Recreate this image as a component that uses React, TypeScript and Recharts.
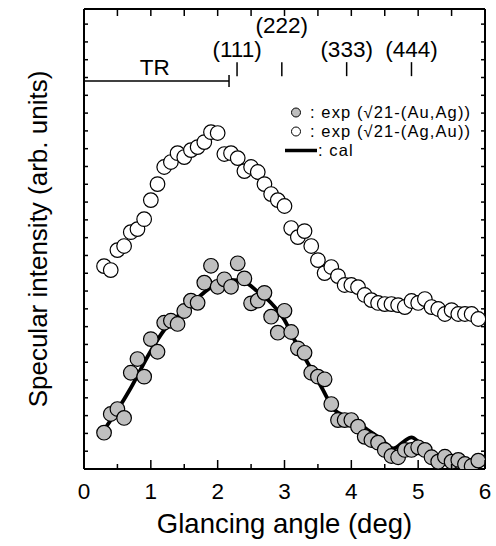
import React from 'react';
import {
  ComposedChart,
  Scatter,
  Line,
  XAxis,
  YAxis,
  ReferenceDot,
  ReferenceLine,
} from 'recharts';

const FONT = '"Liberation Sans", Arial, Helvetica, sans-serif';

// Glancing angles (deg) of the measured points
const angles = [
  0.3, 0.4, 0.5, 0.6, 0.7, 0.8, 0.9, 1.0, 1.1, 1.2, 1.3, 1.4, 1.5, 1.6, 1.7, 1.8, 1.9,
  2.0, 2.1, 2.2, 2.3, 2.4, 2.5, 2.6, 2.7, 2.8, 2.9, 3.0, 3.1, 3.2, 3.3, 3.4, 3.5, 3.6,
  3.7, 3.8, 3.9, 4.0, 4.1, 4.2, 4.3, 4.4, 4.5, 4.6, 4.7, 4.8, 4.9, 5.0, 5.1, 5.2, 5.3,
  5.4, 5.5, 5.6, 5.7, 5.8, 5.9,
];

// exp (√21-(Ag,Au)) — open circles (arb. units)
const expAgAu = [
  11.4, 11.18, 12.3, 12.53, 13.31, 13.48, 14.04, 15.11, 16.01, 16.97, 17.25, 17.75, 17.53,
  17.92, 18.09, 18.37, 18.93, 18.88, 17.7, 17.75, 17.47, 16.74, 16.97, 16.69, 16.01,
  15.45, 15.11, 14.78, 13.54, 13.03, 13.37, 12.53, 11.74, 11.01, 11.35, 10.84, 10.34,
  10.34, 10.22, 9.78, 9.49, 9.33, 9.27, 9.27, 9.21, 9.1, 9.44, 9.33, 9.55, 9.1, 8.99,
  8.71, 8.93, 8.71, 8.71, 8.71, 8.43,
];

// exp (√21-(Au,Ag)) — grey filled circles (arb. units)
const expAuAg = [
  2.04, 3.09, 3.37, 2.87, 5.41, 6.18, 5.19, 7.3, 6.59, 8.22, 8.33, 8.15, 8.88, 9.46, 9.34,
  10.47, 11.42, 10.24, 10.66, 10.24, 11.56, 10.71, 9.31, 9.46, 9.9, 8.56, 7.66, 8.89,
  7.7, 6.78, 6.53, 5.41, 5.19, 5.04, 3.65, 2.75, 2.75, 2.75, 2.38, 1.81, 1.63, 1.48,
  1.07, 0.73, 0.66, 1.07, 1.07, 1.22, 1.07, 0.66, 0.41, 0.69, 0.41, 0.51, 0.28, 0.17,
  0.47,
];

// calculated curve
const calAngles = [
  0.3, 0.5, 0.7, 0.95, 1.2, 1.45, 1.7, 1.95, 2.2, 2.4, 2.6, 2.8, 3.0, 3.15, 3.35, 3.55,
  3.75, 3.88, 4.0, 4.18, 4.43, 4.63, 4.78, 4.9, 5.03, 5.23, 5.43, 5.63, 5.83, 5.92,
];
const calValues = [
  2.19, 3.31, 4.55, 6.31, 7.81, 8.76, 9.61, 10.34, 10.62, 10.52, 9.96, 9.33, 8.37, 7.25,
  5.94, 4.62, 3.31, 3.03, 2.94, 2.38, 1.72, 1.16, 1.53, 1.78, 1.44, 0.79, 0.41, 0.28,
  0.41, 0.54,
];

const xTicks = [0, 0.5, 1, 1.5, 2, 2.5, 3, 3.5, 4, 4.5, 5, 5.5, 6];
const xTickLabels = ['0', '', '1', '', '2', '', '3', '', '4', '', '5', '', '6'];
const yTicks = [
  1, 2, 3, 4, 5, 6, 7, 8, 9, 10, 11, 12, 13, 14, 15, 16, 17, 18, 19, 20, 21, 22, 23, 24, 25,
];

// top annotations
const reflectionLabels = ['(111)', '(222)', '(333)', '(444)'];
const reflectionAngles = [2.29, 2.96, 3.93, 4.9];
const reflectionLabelLevels = [23.6, 24.9, 23.6, 23.6];
const reflectionTickLevel = 22.47;
const trLabel = 'TR';
const trLabelAngle = 1.06;
const trLabelLevel = 22.55;
const trLevel = 21.8;
const trEndAngle = 2.17;

const legendLabels = [': exp (\u221A21-(Au,Ag))', ': exp (\u221A21-(Ag,Au))', ': cal'];

const openData = angles.map((x, i) => ({ x, y: expAgAu[i] }));
const greyData = angles.map((x, i) => ({ x, y: expAuAg[i] }));
const calData = calAngles.map((x, i) => ({ x, y: calValues[i] }));

const BottomTick = (props: any) => {
  const { x, y, index } = props;
  const lbl = xTickLabels[index];
  const major = lbl !== '';
  return (
    <g>
      <line x1={x} x2={x} y1={y} y2={y - (major ? 9 : 5)} stroke="#000" strokeWidth={1.5} />
      {major && (
        <text
          x={x}
          y={y + 22}
          textAnchor="middle"
          dominantBaseline="central"
          fontSize={22.5}
          fontFamily={FONT}
          fill="#000"
        >
          {lbl}
        </text>
      )}
    </g>
  );
};

const TopTick = (props: any) => {
  const { x, y } = props;
  return <line x1={x} x2={x} y1={y} y2={y + 7} stroke="#000" strokeWidth={1.5} />;
};

const LeftTick = (props: any) => {
  const { x, y } = props;
  return <line x1={x} x2={x + 4} y1={y} y2={y} stroke="#000" strokeWidth={1.5} />;
};

const RightTick = (props: any) => {
  const { x, y } = props;
  return <line x1={x} x2={x - 4} y1={y} y2={y} stroke="#000" strokeWidth={1.5} />;
};

const openShape = (p: any) => (
  <circle cx={p.cx} cy={p.cy} r={7.3} fill="#ffffff" stroke="#000" strokeWidth={1.2} />
);
const greyShape = (p: any) => (
  <circle cx={p.cx} cy={p.cy} r={7.3} fill="#bfbfbf" stroke="#000" strokeWidth={1.2} />
);

const textShape = (label: string, size: number) => (p: any) => (
  <text
    x={p.cx}
    y={p.cy}
    textAnchor="middle"
    dominantBaseline="central"
    fontSize={size}
    fontFamily={FONT}
    fill="#000"
  >
    {label}
  </text>
);

const vTickShape = (half: number) => (p: any) => (
  <line x1={p.cx} x2={p.cx} y1={p.cy - half} y2={p.cy + half} stroke="#000" strokeWidth={1.5} />
);

const Legend = () => (
  <div
    style={{
      position: 'absolute',
      left: 283,
      top: 103,
      fontFamily: FONT,
      fontSize: 16.5,
      lineHeight: '19px',
      letterSpacing: '1.1px',
      color: '#000',
      whiteSpace: 'nowrap',
    }}
  >
    {legendLabels.map((l, i) => (
      <div key={i} style={{ display: 'flex', alignItems: 'center', height: 19 }}>
        <svg width={26} height={19} style={{ display: 'block', overflow: 'visible' }}>
          {i === 0 && <circle cx={13} cy={9.5} r={4.5} fill="#bfbfbf" stroke="#000" strokeWidth={1} />}
          {i === 1 && <circle cx={13} cy={9.5} r={4.5} fill="#fff" stroke="#000" strokeWidth={1} />}
          {i === 2 && <line x1={2} x2={34} y1={9.5} y2={9.5} stroke="#000" strokeWidth={3.5} />}
        </svg>
        <span style={{ marginLeft: i === 2 ? 9 : 1 }}>{l}</span>
      </div>
    ))}
  </div>
);

export default function App() {
  return (
    <div style={{ position: 'absolute', left: 0, top: 0, width: 496, height: 546, background: '#fff' }}>
      <ComposedChart width={496} height={546} margin={{ top: 0, right: 0, bottom: 0, left: 0 }}>
        <XAxis
          xAxisId="b"
          type="number"
          dataKey="x"
          domain={[0, 6]}
          ticks={xTicks}
          interval={0}
          height={77}
          tickSize={0}
          tickMargin={0}
          axisLine={{ stroke: '#000', strokeWidth: 2 }}
          tickLine={false}
          tick={<BottomTick />}
          allowDataOverflow
          label={{
            content: (p: any) => {
              const vb = p.viewBox || {};
              return (
                <text
                  x={vb.x + vb.width / 2}
                  y={vb.y + 54}
                  textAnchor="middle"
                  dominantBaseline="central"
                  fontSize={27.5}
                  fontFamily={FONT}
                  fill="#000"
                >
                  Glancing angle (deg)
                </text>
              );
            },
          }}
        />
        <XAxis
          xAxisId="t"
          orientation="top"
          type="number"
          dataKey="x"
          domain={[0, 6]}
          ticks={xTicks}
          interval={0}
          height={9}
          tickSize={0}
          tickMargin={0}
          axisLine={{ stroke: '#000', strokeWidth: 2 }}
          tickLine={false}
          tick={<TopTick />}
          allowDataOverflow
        />
        <YAxis
          yAxisId="l"
          type="number"
          dataKey="y"
          domain={[0, 25.85]}
          ticks={yTicks}
          interval={0}
          width={84}
          tickSize={0}
          tickMargin={0}
          axisLine={{ stroke: '#000', strokeWidth: 2 }}
          tickLine={false}
          tick={<LeftTick />}
          allowDataOverflow
          label={{
            content: (p: any) => {
              const vb = p.viewBox || {};
              const cx = 38;
              const cy = vb.y + vb.height / 2;
              return (
                <text
                  x={cx}
                  y={cy}
                  transform={`rotate(-90 ${cx} ${cy})`}
                  textAnchor="middle"
                  dominantBaseline="central"
                  fontSize={26}
                  fontFamily={FONT}
                  fill="#000"
                >
                  Specular intensity (arb. units)
                </text>
              );
            },
          }}
        />
        <YAxis
          yAxisId="r"
          orientation="right"
          type="number"
          dataKey="y"
          domain={[0, 25.85]}
          ticks={yTicks}
          interval={0}
          width={11}
          tickSize={0}
          tickMargin={0}
          axisLine={{ stroke: '#000', strokeWidth: 2 }}
          tickLine={false}
          tick={<RightTick />}
          allowDataOverflow
        />

        <ReferenceLine
          xAxisId="b"
          yAxisId="l"
          segment={[
            { x: 0, y: trLevel },
            { x: trEndAngle, y: trLevel },
          ]}
          stroke="#000"
          strokeWidth={1.5}
        />
        <ReferenceDot xAxisId="b" yAxisId="l" x={trEndAngle} y={trLevel} shape={vTickShape(6)} />
        <ReferenceDot
          xAxisId="b"
          yAxisId="l"
          x={trLabelAngle}
          y={trLabelLevel}
          shape={textShape(trLabel, 22.5)}
        />
        {reflectionAngles.map((a, i) => (
          <ReferenceDot
            key={'rt' + i}
            xAxisId="b"
            yAxisId="l"
            x={a}
            y={reflectionTickLevel}
            shape={vTickShape(7)}
          />
        ))}
        {reflectionAngles.map((a, i) => (
          <ReferenceDot
            key={'rl' + i}
            xAxisId="b"
            yAxisId="l"
            x={a}
            y={reflectionLabelLevels[i]}
            shape={textShape(reflectionLabels[i], 22.5)}
          />
        ))}

        <Scatter
          xAxisId="b"
          yAxisId="l"
          data={openData}
          dataKey="y"
          shape={openShape}
          isAnimationActive={false}
        />
        <Scatter
          xAxisId="b"
          yAxisId="l"
          data={greyData}
          dataKey="y"
          shape={greyShape}
          isAnimationActive={false}
        />
        <Line
          xAxisId="b"
          yAxisId="l"
          data={calData}
          dataKey="y"
          type="monotone"
          stroke="#000"
          strokeWidth={3.8}
          dot={false}
          activeDot={false}
          isAnimationActive={false}
        />
      </ComposedChart>
      <Legend />
    </div>
  );
}
